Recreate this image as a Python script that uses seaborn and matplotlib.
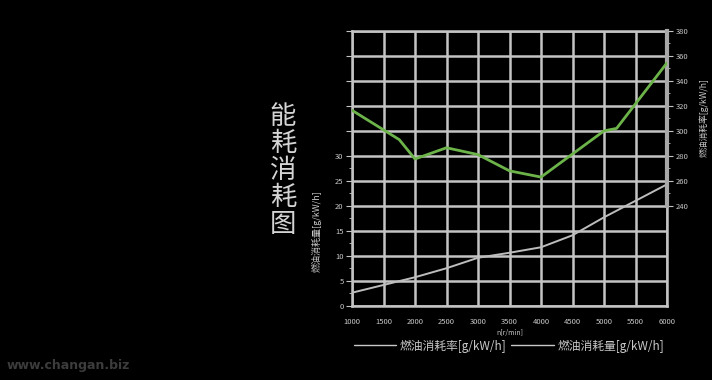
import matplotlib
matplotlib.use("Agg")
import matplotlib.pyplot as plt
import seaborn as sns
import pandas as pd
import numpy as np
from matplotlib.ticker import MultipleLocator, FuncFormatter
from matplotlib.lines import Line2D

sns.set_theme(style="dark")
plt.rcParams['font.family'] = ['Noto Sans CJK SC', 'DejaVu Sans']

# data
rate_rpm = [1000, 1750, 2000, 2500, 3000, 3500, 4000, 5000, 5200, 6000]
rate_val = [316.5, 293, 277.5, 286.5, 281, 268, 263, 300, 302, 354.5]
cons_rpm = [1000, 2000, 2500, 3000, 3500, 4000, 4500, 5000, 5500, 6000]
cons_val = [2.6, 5.7, 7.5, 9.6, 10.6, 11.7, 14.1, 17.7, 21.0, 24.3]
x_ticks = [1000, 1500, 2000, 2500, 3000, 3500, 4000, 4500, 5000, 5500, 6000]
left_ticks = [0, 5, 10, 15, 20, 25, 30]
right_ticks = [240, 260, 280, 300, 320, 340, 360, 380]
label_rate = "燃油消耗率[g/kW/h]"
label_cons = "燃油消耗量[g/kW/h]"
title = "能耗消耗图"

BG = "black"
GRID = "#c4c4c4"
TXT = "#c8c8c8"
GREEN = "#6cb34a"
GRAYLINE = "#bdbdbd"

fig = plt.figure(figsize=(7.12, 3.8), dpi=100, facecolor=BG)
ax = fig.add_axes([352/712, 1-305.7/380, (667-352)/712, (305.7-31)/380])
ax.set_facecolor(BG)

df_c = pd.DataFrame({"rpm": cons_rpm, "v": cons_val})
df_r = pd.DataFrame({"rpm": rate_rpm, "v": rate_val})

sns.lineplot(data=df_c, x="rpm", y="v", ax=ax, color=GRAYLINE, linewidth=1.4, zorder=5)
ax.set_xlim(1000, 6000)
ax.set_ylim(0, 55)
ax.set_xticks(x_ticks)
ax.set_xticklabels([str(t) for t in x_ticks])
ax.yaxis.set_major_locator(MultipleLocator(5))
ax.yaxis.set_major_formatter(FuncFormatter(lambda v, p: f"{int(v)}" if v <= 30 else ""))
ax.grid(True, color=GRID, linewidth=1.8, zorder=1)
ax.set_axisbelow(True)
for t in ax.yaxis.get_major_ticks():
    if t.get_loc() > 30:
        t.tick1line.set_visible(False)
ax.tick_params(axis='y', which='major', left=True, length=4, width=0.8, color=GRID,
               labelsize=5.5, labelcolor=TXT, pad=2)
ax.tick_params(axis='x', which='major', bottom=False, labelsize=5.5, labelcolor=TXT, pad=3)
ax.set_yticks([2.5, 7.5, 12.5, 17.5, 22.5, 27.5], minor=True)
ax.tick_params(axis='y', which='minor', left=True, length=2, width=0.6, color=GRID)
for s in ax.spines.values():
    s.set_color(GRID)
    s.set_linewidth(1.8)
ax.set_xlabel("n[r/min]", fontsize=5, color=TXT, labelpad=2)
ax.set_ylabel(label_cons, fontsize=6.5, color=TXT, labelpad=10)
ax.yaxis.set_label_coords(-0.095, 0.27)

ax2 = ax.twinx()
sns.lineplot(data=df_r, x="rpm", y="v", ax=ax2, color=GREEN, linewidth=2.0, zorder=6)
ax2.set_ylim(160, 380)
ax2.set_yticks(right_ticks)
ax2.set_yticks([250, 270, 290, 310, 330, 350, 370], minor=True)
ax2.tick_params(axis='y', which='major', right=True, length=4, width=0.8, color=GRID,
                labelsize=5.5, labelcolor=TXT, pad=2)
ax2.tick_params(axis='y', which='minor', right=True, length=2, width=0.6, color=GRID)
ax2.grid(False)
for k in ['top', 'bottom', 'left']:
    ax2.spines[k].set_visible(False)
ax2.spines['right'].set_bounds(240, 380)
ax2.spines['right'].set_color("#a8a8a8")
ax2.spines['right'].set_linewidth(3)
ax2.set_ylabel("")
ax2.set_xlabel("")
fig.text(704/712, 1-118/380, label_rate, fontsize=6.3, color=TXT, rotation=90,
         ha='center', va='center')

# legend
handles = [Line2D([], [], color=TXT, linewidth=1.0), Line2D([], [], color=TXT, linewidth=1.0)]
fig.legend(handles, [label_rate, label_cons], loc='center', bbox_to_anchor=(509/712, 1-346/380),
           ncol=2, frameon=False, fontsize=8.5, labelcolor=TXT, handlelength=3.6,
           handletextpad=0.3, columnspacing=0.4)

fig.text(283/712, 1-171/380, "\n".join(title), fontsize=19, color="#d4d4d4",
         ha='center', va='center', linespacing=1.0)
fig.text(7/712, 1-366/380, "www.changan.biz", fontsize=9, fontweight='bold',
         color="#3c3c3c", ha='left', va='center', family='DejaVu Sans')

fig.savefig("out.png", dpi=100, facecolor=BG)
